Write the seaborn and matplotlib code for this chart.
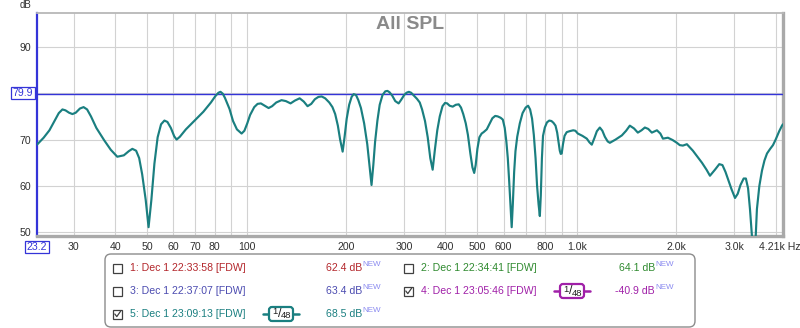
import matplotlib
matplotlib.use("Agg")
import matplotlib.pyplot as plt
import pandas as pd
import seaborn as sns
from matplotlib.patches import FancyBboxPatch, Rectangle
from matplotlib.lines import Line2D

# Measurement 5 (1/48 octave smoothed) frequency response
freq_hz = [
    23.2, 24.3, 25.3, 26.3, 27.0, 27.7, 28.3, 29.0, 29.7, 30.4,
    31.3, 32.1, 32.9, 33.8, 35.1, 37.1, 38.8, 40.6, 42.5, 44.0,
    45.1, 46.3, 47.3, 48.3, 49.5, 50.5, 51.5, 52.6, 53.8, 55.1,
    56.4, 57.6, 59.0, 60.4, 61.4, 62.8, 65.5, 69.6, 74.0, 78.0,
    80.5, 82.2, 83.4, 84.7, 86.0, 88.8, 91.0, 93.5, 96.6, 98.5,
    100.5, 102.5, 105.5, 108.0, 110.5, 113.5, 116.6, 119.5, 123.0, 127.6,
    131.5, 135.9, 140.0, 144.8, 149.0, 153.0, 157.0, 161.0, 165.0, 168.8,
    173.0, 178.0, 182.0, 185.5, 189.0, 192.0, 195.4, 198.0, 201.0, 204.5,
    208.0, 211.0, 214.5, 218.0, 222.0, 227.0, 232.0, 236.0, 239.0, 242.0,
    245.0, 249.0, 253.0, 258.0, 263.0, 267.0, 271.0, 276.0, 282.0, 288.7,
    294.0, 300.0, 305.0, 310.0, 315.0, 321.0, 328.0, 334.5, 340.0, 347.0,
    353.6, 360.0, 366.0, 372.0, 378.0, 384.6, 392.0, 399.0, 405.0, 412.0,
    421.0, 430.0, 439.0, 446.0, 453.0, 461.0, 468.0, 476.0, 483.0, 489.0,
    494.0, 500.0, 507.0, 515.0, 522.0, 533.7, 545.0, 555.0, 566.0, 576.0,
    588.0, 597.0, 605.0, 612.0, 618.0, 624.0, 630.0, 635.0, 640.0, 646.0,
    652.0, 660.0, 672.0, 685.0, 700.0, 712.0, 722.0, 732.0, 741.0, 750.0,
    758.0, 766.0, 772.7, 778.0, 784.0, 790.0, 800.0, 812.0, 825.0, 838.0,
    850.0, 862.0, 872.0, 880.0, 888.0, 894.0, 900.0, 908.0, 918.0, 932.0,
    950.0, 975.0, 990.0, 1007.0, 1040.0, 1072.0, 1092.0, 1110.0, 1130.0, 1150.0,
    1174.0, 1195.0, 1216.0, 1240.0, 1259.0, 1310.0, 1369.0, 1410.0, 1447.0, 1490.0,
    1530.0, 1570.0, 1607.0, 1645.0, 1687.0, 1748.0, 1790.0, 1823.0, 1887.0, 1950.0,
    2009.0, 2050.0, 2095.0, 2154.0, 2246.0, 2393.0, 2470.0, 2530.0, 2620.0, 2700.0,
    2760.0, 2820.0, 2868.0, 2940.0, 3013.0, 3070.0, 3130.0, 3200.0, 3250.0, 3300.0,
    3344.0, 3400.0, 3437.0, 3475.0, 3510.0, 3570.0, 3636.0, 3700.0, 3766.0, 3850.0,
    3926.0, 4000.0, 4100.0, 4180.0, 4210.0,
]
spl_db = [
    68.9, 70.4, 72.0, 74.2, 75.7, 76.5, 76.3, 75.8, 75.5, 75.8,
    76.7, 77.0, 76.5, 75.0, 72.5, 69.8, 67.8, 66.3, 66.6, 67.5,
    68.0, 67.6, 66.0, 62.5, 57.0, 51.1, 57.0, 64.8, 70.5, 73.3,
    74.1, 73.8, 72.5, 70.7, 70.0, 70.6, 72.2, 74.1, 76.0, 78.0,
    79.4, 80.1, 80.3, 79.9, 79.0, 76.6, 74.0, 72.2, 71.3, 71.9,
    73.5, 75.3, 77.0, 77.7, 77.8, 77.3, 76.8, 77.2, 78.0, 78.5,
    78.3, 77.8, 78.4, 78.9, 78.2, 77.2, 77.7, 78.7, 79.2, 79.3,
    78.9, 78.0, 77.0, 75.5, 73.0, 70.0, 67.4, 70.5, 74.5, 77.5,
    79.2, 79.8, 79.6, 78.5, 76.8, 73.5, 69.0, 64.0, 60.2, 64.5,
    69.5, 74.1, 77.5, 79.6, 80.4, 80.5, 80.2, 79.5, 78.3, 77.8,
    78.6, 79.6, 80.1, 80.3, 80.1, 79.5, 78.8, 78.0, 76.5, 74.0,
    70.5, 66.0, 63.5, 68.0, 72.0, 75.0, 77.2, 77.9, 77.8, 77.3,
    77.1, 77.5, 77.6, 76.9, 75.5, 73.5, 71.0, 67.0, 64.0, 62.8,
    64.5, 68.0, 70.5, 71.3, 71.6, 72.2, 73.5, 74.6, 75.1, 75.0,
    74.7, 74.3, 72.5, 69.5, 66.0, 61.0, 55.5, 51.1, 56.0, 63.0,
    67.5, 70.6, 73.5, 75.7, 76.9, 77.3, 76.5, 74.5, 71.0, 66.0,
    60.0, 56.0, 53.5, 58.0, 66.0, 70.8, 72.6, 73.7, 74.1, 74.0,
    73.6, 73.0, 71.5, 69.5, 67.6, 66.9, 67.0, 69.0, 70.8, 71.6,
    71.8, 72.0, 71.9, 71.3, 70.8, 70.2, 69.4, 68.9, 70.3, 71.8,
    72.6, 71.9, 70.6, 69.6, 69.3, 70.0, 70.9, 71.9, 73.0, 72.4,
    71.5, 72.0, 72.6, 72.3, 71.5, 72.0, 71.3, 70.2, 70.4, 69.9,
    69.3, 68.8, 68.7, 69.0, 67.6, 65.0, 63.5, 62.2, 63.5, 64.7,
    64.5, 63.0, 61.5, 59.3, 57.4, 58.3, 60.2, 61.6, 61.6, 59.5,
    55.0, 48.0, 44.0, 48.0, 55.0, 60.0, 63.3, 65.5, 67.0, 68.0,
    68.8, 70.0, 71.8, 73.0, 73.3,
]

# Axis ticks and grid
x_grid = [30, 40, 50, 60, 70, 80, 90, 100, 200, 300, 400, 500, 600, 700, 800, 900,
          1000, 2000, 3000, 4000]
x_labels = ["30", "40", "50", "60", "70", "80", "", "100", "200", "300", "400", "500",
            "600", "", "800", "", "1.0k", "2.0k", "3.0k", ""]
y_grid = [50, 60, 70, 80, 90]
y_labels = ["50", "60", "70", "", "90"]
f_min, f_max = 23.2, 4210
y_min, y_max = 49.2, 97.3
cursor_db = 79.9

# Legend entries
entry_names = ["1: Dec 1 22:33:58 [FDW]", "2: Dec 1 22:34:41 [FDW]",
               "3: Dec 1 22:37:07 [FDW]", "4: Dec 1 23:05:46 [FDW]",
               "5: Dec 1 23:09:13 [FDW]"]
entry_levels = ["62.4", "64.1", "63.4", "-40.9", "68.5"]
entry_checked = [False, False, False, True, True]
entry_colors = ["#b3262b", "#2f8a2f", "#4b4bb0", "#a020a8", "#1a7f80"]
entry_col = [0, 1, 0, 1, 0]
entry_row = [0, 0, 1, 1, 2]

TEAL = "#1a7f80"
BLUE = "#3434d8"
GRID = "#d2d2d2"

sns.set_theme(style="white")
plt.rcParams["font.family"] = ["Liberation Sans", "DejaVu Sans"]

W, H = 800, 328
fig = plt.figure(figsize=(W / 100, H / 100), dpi=100)
fig.patch.set_facecolor("white")

L, R, T, B = 37, 783, 13, 236
ax = fig.add_axes([L / W, 1 - B / H, (R - L) / W, (B - T) / H])
ax.set_facecolor("white")

df = pd.DataFrame({"freq": freq_hz, "spl": spl_db})
ax.set_xscale("log")
sns.lineplot(data=df, x="freq", y="spl", ax=ax, color=TEAL, linewidth=1.55,
             zorder=5, solid_joinstyle="round", solid_capstyle="round")
ax.set_xlim(f_min, f_max)
ax.set_ylim(y_min, y_max)

ax.set_xticks(x_grid)
ax.set_xticklabels(x_labels)
ax.xaxis.set_minor_locator(matplotlib.ticker.NullLocator())
ax.set_yticks(y_grid)
ax.set_yticklabels(y_labels)
ax.grid(True, which="major", color=GRID, linewidth=0.8, zorder=0)
ax.tick_params(axis="both", length=0, labelsize=7.6, colors="#303030", pad=4)
ax.set_xlabel("")
ax.set_ylabel("")

ax.axhline(cursor_db, color=BLUE, linewidth=1.0, zorder=4)

ax.spines["top"].set_color("#b8b8b8")
ax.spines["top"].set_linewidth(1.3)
for side in ["right", "bottom"]:
    ax.spines[side].set_color("#a9a9a9")
    ax.spines[side].set_linewidth(2.4)
ax.spines["left"].set_color(BLUE)
ax.spines["left"].set_linewidth(1.6)

ax.text(0.5, 1 - 11.5 / (B - T), "All SPL", transform=ax.transAxes, ha="center",
        va="center", fontsize=14, fontweight="bold", color="#8a8a8a", zorder=6)

tr = fig.dpi_scale_trans


def P(x, y):
    return (x / 100, (H - y) / 100)


fig.text(*P(26, 5), "dB", transform=tr, ha="center", va="center", fontsize=7,
         color="#303030")
fig.text(*P(23, 93), "79.9", transform=tr, ha="center", va="center", fontsize=7.6,
         color=BLUE, bbox=dict(boxstyle="square,pad=0.12", fc="white", ec=BLUE, lw=0.9))
fig.text(*P(37, 247), "23.2", transform=tr, ha="center", va="center", fontsize=7.6,
         color=BLUE, bbox=dict(boxstyle="square,pad=0.12", fc="white", ec=BLUE, lw=0.9))
fig.text(*P(759, 247), "4.21k Hz", transform=tr, ha="left", va="center", fontsize=7.6,
         color="#303030")

# Legend panel
x0, y0, x1, y1 = 105, 254, 695, 327
fig.patches.append(FancyBboxPatch(P(x0, y1), (x1 - x0) / 100, (y1 - y0) / 100,
                                  boxstyle="round,pad=0,rounding_size=0.06",
                                  transform=tr, fc="white", ec="#8c8c8c", lw=1.0))

row_y = [268, 291, 314]
box_x = [113, 404]
text_x = [130, 421]
level_x = [362, 655]
badge_x = [281, 572]

for name, lvl, chk, col, c, r in zip(entry_names, entry_levels, entry_checked,
                                     entry_colors, entry_col, entry_row):
    cy = row_y[r]
    bx = box_x[c]
    fig.patches.append(Rectangle(P(bx, cy + 4.5), 0.09, 0.09, transform=tr,
                                 fc="white", ec="#404040", lw=0.9))
    if chk:
        fig.lines.append(Line2D([P(bx + 1.8, 0)[0], P(bx + 3.8, 0)[0], P(bx + 7.6, 0)[0]],
                                [P(0, cy)[1], P(0, cy + 2.6)[1], P(0, cy - 2.8)[1]],
                                transform=tr, color="#404040", lw=0.9))
        bxc = badge_x[c]
        fig.lines.append(Line2D([P(bxc - 18, 0)[0], P(bxc + 18, 0)[0]],
                                [P(0, cy)[1], P(0, cy)[1]], transform=tr,
                                color=col, lw=1.8))
        fig.patches.append(FancyBboxPatch(P(bxc - 12, cy + 7), 0.24, 0.14,
                                          boxstyle="round,pad=0,rounding_size=0.03",
                                          transform=tr, fc="white", ec=col, lw=1.6,
                                          zorder=3))
        fig.text(*P(bxc - 6, cy - 2), "1", transform=tr, ha="center", va="center",
                 fontsize=6.8, color="#202020", zorder=4)
        fig.text(*P(bxc - 1.5, cy), "/", transform=tr, ha="center", va="center",
                 fontsize=9, color="#202020", zorder=4)
        fig.text(*P(bxc + 5, cy + 2), "48", transform=tr, ha="center", va="center",
                 fontsize=6.8, color="#202020", zorder=4)
    fig.text(*P(text_x[c], cy), name, transform=tr, ha="left", va="center",
             fontsize=7.6, color=col)
    fig.text(*P(level_x[c], cy), f"{lvl} dB", transform=tr, ha="right", va="center",
             fontsize=7.6, color=col)
    fig.text(*P(level_x[c] + 0.5, cy - 3.5), "NEW", transform=tr, ha="left",
             va="center", fontsize=5.8, color="#8a8af0")

fig.savefig("out.png", dpi=100)
